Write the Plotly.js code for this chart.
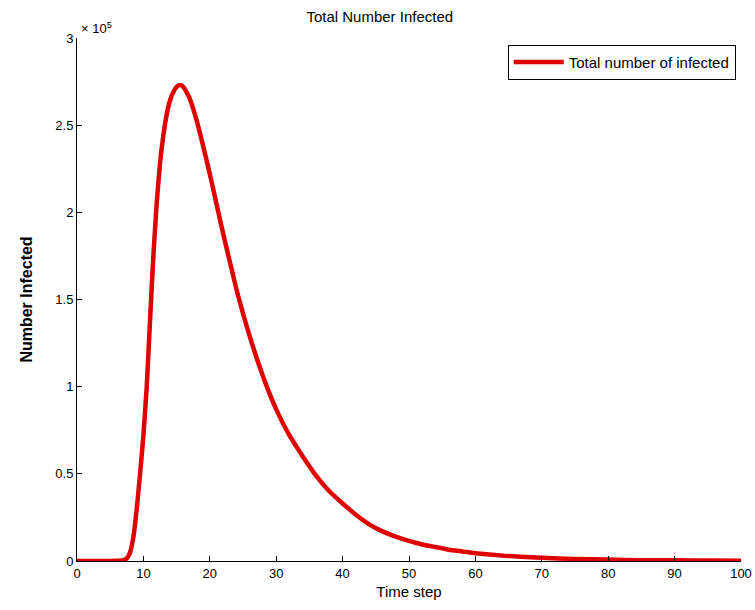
<!DOCTYPE html>
<html>
<head>
<meta charset="utf-8">
<script src="https://cdn.plot.ly/plotly-3.0.1.min.js"></script>
<style>html,body{margin:0;padding:0;background:#fff;}#chart{width:755px;height:610px;}</style>
</head>
<body>
<div id="chart"></div>
<script>
// Time steps
const timeSteps = [0,1,2,3,4,5,6,7,7.5,8,8.5,9,9.5,10,10.5,11,11.5,12,12.5,13,13.5,14,14.5,15,15.5,16,16.5,17,18,19,20,21,22,23,24,25,26,27,28,29,30,32,34,36,38,40,42,44,46,48,50,52,54,56,58,60,65,70,75,80,85,90,95,100];
// Total number infected (in units of 10^5)
const infectedE5 = [0,0,0,0,0,0,0.001,0.005,0.015,0.05,0.14,0.3,0.5,0.72,1.0,1.38,1.75,2.05,2.28,2.44,2.56,2.64,2.69,2.72,2.73,2.72,2.69,2.65,2.53,2.38,2.22,2.05,1.88,1.72,1.56,1.42,1.29,1.17,1.06,0.96,0.87,0.72,0.6,0.49,0.4,0.33,0.265,0.21,0.17,0.14,0.115,0.095,0.08,0.065,0.055,0.045,0.028,0.018,0.012,0.008,0.005,0.004,0.003,0.002];
const scale = 1e5;
const infected = infectedE5.map(v => v * scale);
const xTicks = [0,10,20,30,40,50,60,70,80,90,100];
const yTickVals = [0,0.5,1,1.5,2,2.5,3].map(v => v * scale);
const yTickText = ['0','0.5','1','1.5','2','2.5','3'];

const font = 'Liberation Sans, Arial, sans-serif';

const trace = {
  x: timeSteps,
  y: infected,
  type: 'scatter',
  mode: 'lines',
  name: 'Total number of infected',
  line: {color: '#e00000', width: 4.5, shape: 'spline', smoothing: 0.5}
};

const layout = {
  width: 755, height: 610,
  margin: {l: 77, r: 14, t: 38, b: 49},
  paper_bgcolor: '#fff', plot_bgcolor: '#fff',
  font: {family: font, color: '#000', size: 13},
  title: {text: 'Total Number Infected', font: {family: font, size: 15, color: '#000'}, x: 0.503, xref: 'container', xanchor: 'center', y: 0.972, yref: 'container', yanchor: 'middle'},
  showlegend: true,
  legend: {x: 0.992, xanchor: 'right', y: 0.987, yanchor: 'top', bgcolor: '#fff', bordercolor: '#000', borderwidth: 1, font: {family: font, size: 15, color: '#000'}, itemwidth: 50},
  xaxis: {
    range: [0, 100], tickvals: xTicks, ticks: 'inside', ticklen: 5, tickcolor: '#000',
    showline: true, linecolor: '#000', linewidth: 1, showgrid: false, zeroline: false, mirror: false,
    tickfont: {family: font, size: 13, color: '#000'},
    title: {text: 'Time step', font: {family: font, size: 15, color: '#000'}, standoff: 6}
  },
  yaxis: {
    range: [0, 3 * scale], tickvals: yTickVals, ticktext: yTickText, ticks: 'inside', ticklen: 5, tickcolor: '#000',
    showline: true, linecolor: '#000', linewidth: 1, showgrid: false, zeroline: false, mirror: false,
    tickfont: {family: font, size: 13, color: '#000'},
    title: {text: '<b>Number Infected</b>', font: {family: font, size: 16, color: '#000'}, standoff: 18}
  },
  annotations: [{
    text: '\u00d7 10<sup>5</sup>', xref: 'paper', yref: 'paper', x: 0.0, y: 1.0, xanchor: 'left', yanchor: 'bottom',
    showarrow: false, font: {family: font, size: 13, color: '#000'}, xshift: 2, yshift: 0
  }]
};

Plotly.newPlot('chart', [trace], layout, {displayModeBar: false, staticPlot: true});
</script>
</body>
</html>
